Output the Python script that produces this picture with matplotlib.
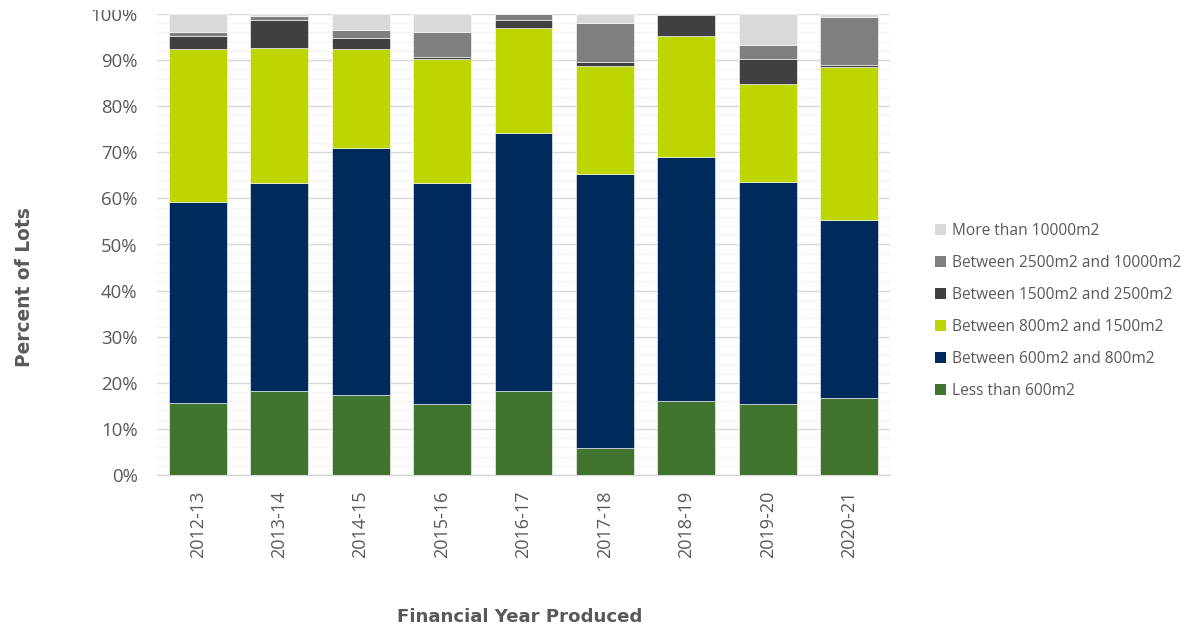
import matplotlib
matplotlib.use("Agg")
import matplotlib.pyplot as plt
from matplotlib.patches import Patch
from matplotlib.ticker import MultipleLocator, PercentFormatter
from matplotlib.transforms import Bbox
import numpy as np

years = ["2012-13", "2013-14", "2014-15", "2015-16", "2016-17",
         "2017-18", "2018-19", "2019-20", "2020-21"]

less_600 = [15.6, 18.2, 17.3, 15.5, 18.2, 5.9, 16.1, 15.4, 16.7]
b600_800 = [43.6, 45.1, 53.6, 47.8, 56.0, 59.4, 52.9, 48.2, 38.6]
b800_1500 = [33.1, 29.3, 21.4, 26.9, 22.8, 23.4, 26.2, 21.2, 33.3]
b1500_2500 = [2.9, 6.1, 2.4, 0.5, 1.6, 0.9, 4.5, 5.4, 0.4]
b2500_10000 = [1.0, 0.8, 1.9, 5.3, 1.4, 8.4, 0.3, 3.0, 10.4]
more_10000 = [3.8, 0.5, 3.4, 4.0, 0.0, 2.0, 0.0, 6.8, 0.6]

series = [
    ("Less than 600m2", less_600, "#41752F"),
    ("Between 600m2 and 800m2", b600_800, "#002A5C"),
    ("Between 800m2 and 1500m2", b800_1500, "#BED600"),
    ("Between 1500m2 and 2500m2", b1500_2500, "#404040"),
    ("Between 2500m2 and 10000m2", b2500_10000, "#7F7F7F"),
    ("More than 10000m2", more_10000, "#D9D9D9"),
]

text_color = "#595959"
plt.rcParams["font.family"] = ["Open Sans", "DejaVu Sans"]

fig = plt.figure(figsize=(12, 6.27), dpi=100)
ax = fig.add_axes([157 / 1200, 1 - 475 / 627, 733 / 1200, 461 / 627])

x = np.arange(len(years))
bottom = np.zeros(len(years))
for name, vals, color in series:
    v = np.array(vals, dtype=float)
    ax.bar(x, v, width=0.71, bottom=bottom, color=color,
           edgecolor="white", linewidth=0.4, zorder=3, label=name)
    bottom += v

ax.set_xlim(-0.5, len(years) - 0.5)
ax.set_ylim(0, 100)
ax.yaxis.set_major_locator(MultipleLocator(10))
ax.yaxis.set_minor_locator(MultipleLocator(2))
ax.yaxis.set_major_formatter(PercentFormatter(100, decimals=0))
ax.grid(axis="y", which="major", color="#D9D9D9", linewidth=1.0, zorder=0)
ax.grid(axis="y", which="minor", color="#F4F4F4", linewidth=1.0, zorder=0)
ax.set_axisbelow(True)

for s in ["top", "right", "left"]:
    ax.spines[s].set_visible(False)
ax.spines["bottom"].set_color("#D9D9D9")
ax.spines["bottom"].set_linewidth(1.0)

ax.set_xticks(x)
ax.set_xticklabels(years, rotation=90)
ax.tick_params(axis="x", length=0, pad=11, labelsize=13, labelcolor=text_color)
ax.tick_params(axis="y", which="both", length=0, pad=14, labelsize=13.4,
               labelcolor=text_color)

# the figure's top edge trims the uppermost tick label
fig.canvas.draw()
for lbl in ax.get_yticklabels():
    lbl.set_clip_box(Bbox([[0, 0], [1200, 627 - 10]]))

fig.text(25 / 1200, 1 - 287 / 627, "Percent of Lots", rotation=90,
         ha="center", va="center", fontsize=13.4, fontweight="bold",
         color=text_color, family="DejaVu Sans")
fig.text(520 / 1200, 1 - 617 / 627, "Financial Year Produced",
         ha="center", va="center", fontsize=13.1, fontweight="bold",
         color=text_color, family="DejaVu Sans")

handles = [Patch(facecolor=c, edgecolor="none") for _, _, c in series][::-1]
labels = [n for n, _, _ in series][::-1]
leg = fig.legend(handles, labels, loc="center left",
                 bbox_to_anchor=(935 / 1200, 1 - 311 / 627),
                 frameon=False, fontsize=11.2, labelcolor=text_color,
                 handlelength=0.7, handleheight=0.7, handletextpad=0.4,
                 labelspacing=1.03, borderaxespad=0, borderpad=0)

fig.savefig("out.png", dpi=100)
